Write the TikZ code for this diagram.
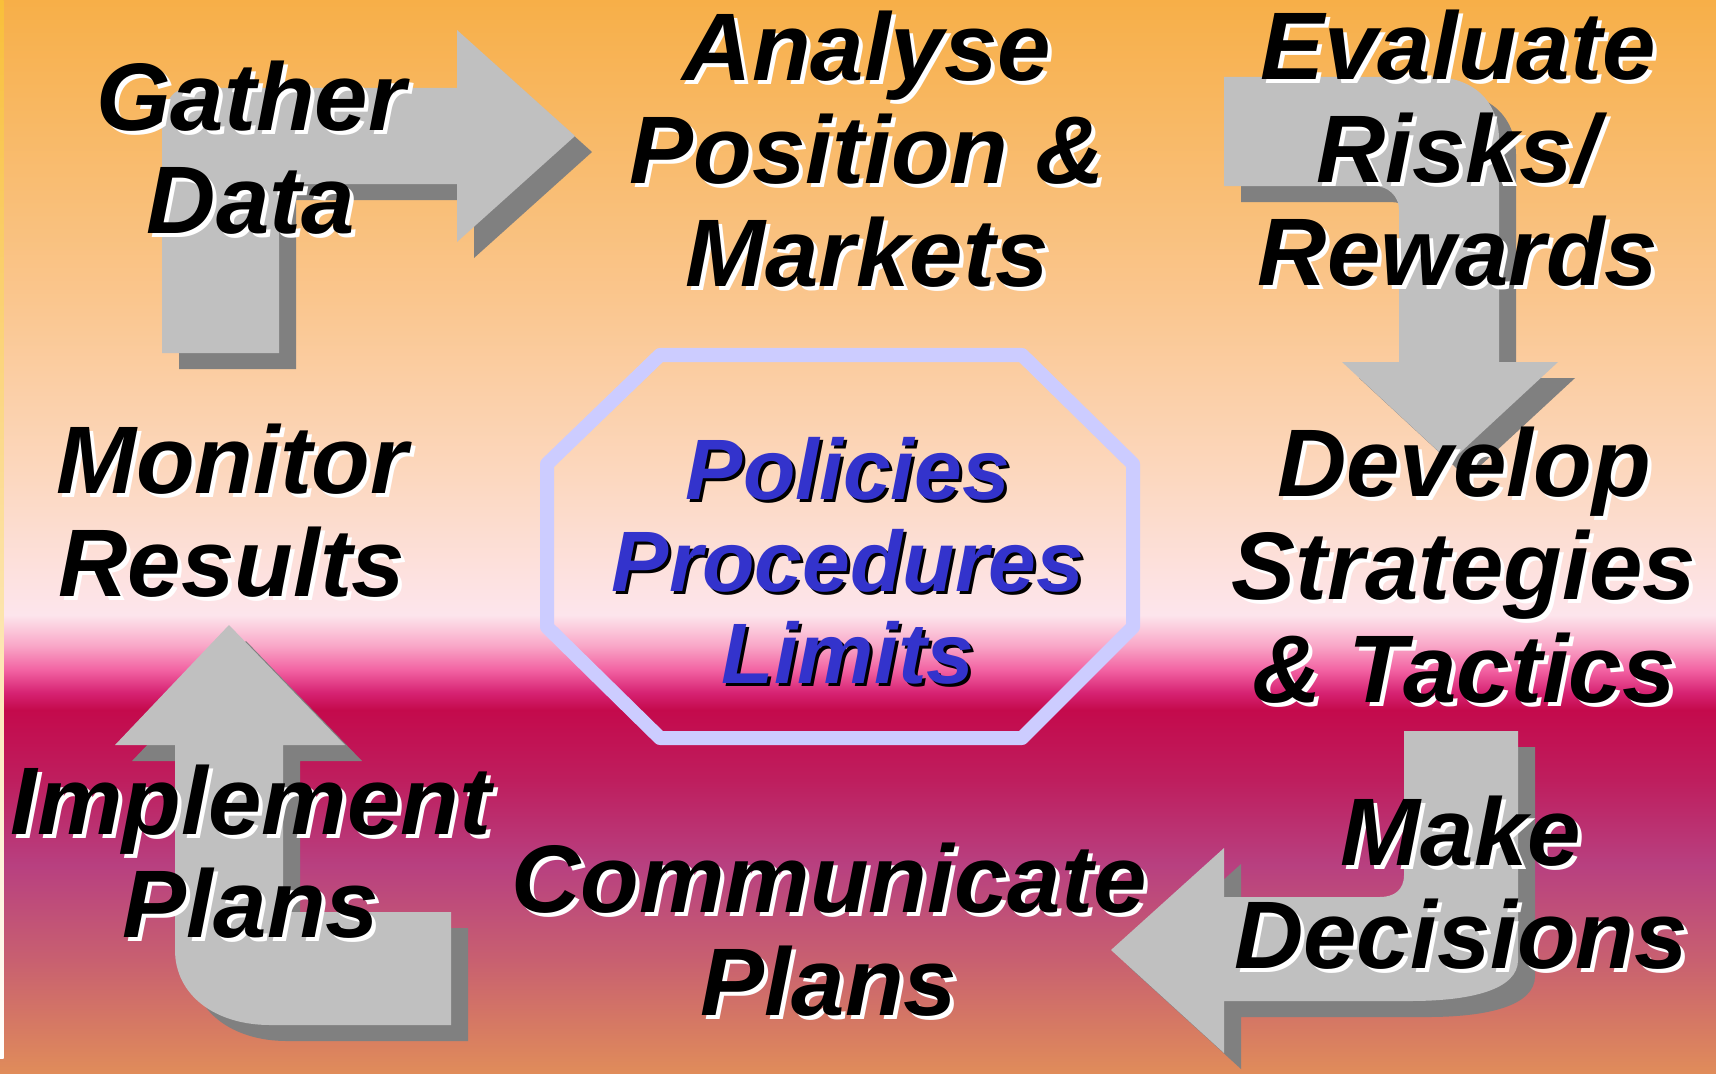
\documentclass[tikz,border=0pt]{standalone}
\usepackage{fontspec}
\setmainfont{Liberation Sans}
\usetikzlibrary{shadows}

% background colours, top to bottom
\definecolor{bgA}{RGB}{247,175,72}
\definecolor{bgB}{RGB}{250,198,142}
\definecolor{bgC}{RGB}{252,216,192}
\definecolor{bgD}{RGB}{253,229,236}
\definecolor{bgE}{RGB}{249,168,200}
\definecolor{bgF}{RGB}{242,98,162}
\definecolor{bgG}{RGB}{214,34,114}
\definecolor{bgH}{RGB}{196,10,76}
\definecolor{bgI}{RGB}{190,30,94}
\definecolor{bgJ}{RGB}{184,64,128}
\definecolor{bgK}{RGB}{200,96,112}
\definecolor{bgL}{RGB}{224,140,90}
\definecolor{arrowface}{RGB}{192,192,192}
\definecolor{arrowdark}{RGB}{128,128,128}
\definecolor{ruleblue}{RGB}{204,204,255}
\definecolor{ruletext}{RGB}{51,51,204}

\pgfdeclareverticalshading{cycleback}{100bp}{color(0bp)=(bgL); color(25bp)=(bgL);
  color(30.27bp)=(bgK); color(34.69bp)=(bgJ); color(38.65bp)=(bgI);
  color(41.92bp)=(bgH); color(42.71bp)=(bgG); color(43.78bp)=(bgF);
  color(44.94bp)=(bgE); color(46.34bp)=(bgD); color(52.63bp)=(bgC);
  color(61.02bp)=(bgB); color(75bp)=(bgA); color(100bp)=(bgA)}

\tikzset{
  turn arrow/.style={fill=arrowface,
    drop shadow={shadow xshift=0.17cm, shadow yshift=-0.16cm, fill=arrowdark, opacity=1}},
  rule frame/.style={draw=ruleblue, line width=0.14cm, line join=round},
  stage text/.style={font=\bfseries\itshape\fontsize{27.3}{29.3}\selectfont,
    align=center, inner sep=0pt, text=black},
  rule text/.style={font=\bfseries\itshape\fontsize{24.4}{26.2}\selectfont,
    align=center, inner sep=0pt, text=ruletext}
}

% label with a light drop shadow
\newcommand{\stagelabel}[3]{%
  \node[stage text, text=white, xshift=0.04cm, yshift=-0.04cm] (#1-sh) at (#2) {#3};
  \node[stage text] (#1) at (#2) {#3};}

\begin{document}
\begin{tikzpicture}[x=0.01cm, y=-0.01cm]
  \useasboundingbox (0,0) rectangle (1716,1073);
  \shade[shading=cycleback] (0,0) rectangle (1716,1073);
  \shade[top color=bgA!80!yellow, middle color=bgC, bottom color=white] (0,0) rectangle (3.5,1058);

  % the four bent arrows
  \fill[turn arrow] (279,353) -- (162,353) -- (162,135) .. controls (162,105) and (170,88) .. (190,88)
    -- (457,88) -- (457,30) -- (575,136) -- (457,242) -- (457,184) -- (279,184) -- cycle;
  \fill[turn arrow] (1224,77) -- (1433,77) .. controls (1472,77) and (1499,100) .. (1499,140)
    -- (1499,362) -- (1558,362) -- (1450,462) -- (1342,362) -- (1399,362) -- (1399,210)
    .. controls (1399,196) and (1388,186) .. (1374,186) -- (1224,186) -- cycle;
  \fill[turn arrow] (1404,731) -- (1518,731) -- (1518,960) .. controls (1518,990) and (1470,1001) .. (1410,1001)
    -- (1224,1001) -- (1224,1053) -- (1111,950) -- (1224,848) -- (1224,897) -- (1380,897)
    .. controls (1394,897) and (1404,890) .. (1404,875) -- cycle;
  \fill[turn arrow] (451,912) -- (283,912) -- (283,745) -- (345,745) -- (229,625) -- (115,745)
    -- (175,745) -- (175,950) .. controls (175,995) and (215,1025) .. (270,1025) -- (451,1025) -- cycle;

  % centre octagon
  \draw[rule frame] (660,355) -- (1022,355) -- (1133,464) -- (1133,627) -- (1022,738)
    -- (660,738) -- (547,627) -- (547,464) -- cycle;
  \node[rule text, text=black, xshift=0.03cm, yshift=-0.03cm] (rules-sh) at (848,561) {Policies\\Procedures\\Limits};
  \node[rule text] (rules) at (848,561) {Policies\\Procedures\\Limits};

  \stagelabel{gather}{251,148}{Gather\\Data}
  \stagelabel{analyse}{867,149}{Analyse\\Position \&\\Markets}
  \stagelabel{evaluate}{1458,148}{Evaluate\\Risks/\\Rewards}
  \stagelabel{develop}{1464,565}{Develop\\Strategies\\\& Tactics}
  \stagelabel{decide}{1461,883}{Make\\Decisions}
  \stagelabel{communicate}{829,930}{Communicate\\Plans}
  \stagelabel{implement}{251,852}{Implement\\Plans}
  \stagelabel{monitor}{232,511}{Monitor\\Results}
\end{tikzpicture}
\end{document}
